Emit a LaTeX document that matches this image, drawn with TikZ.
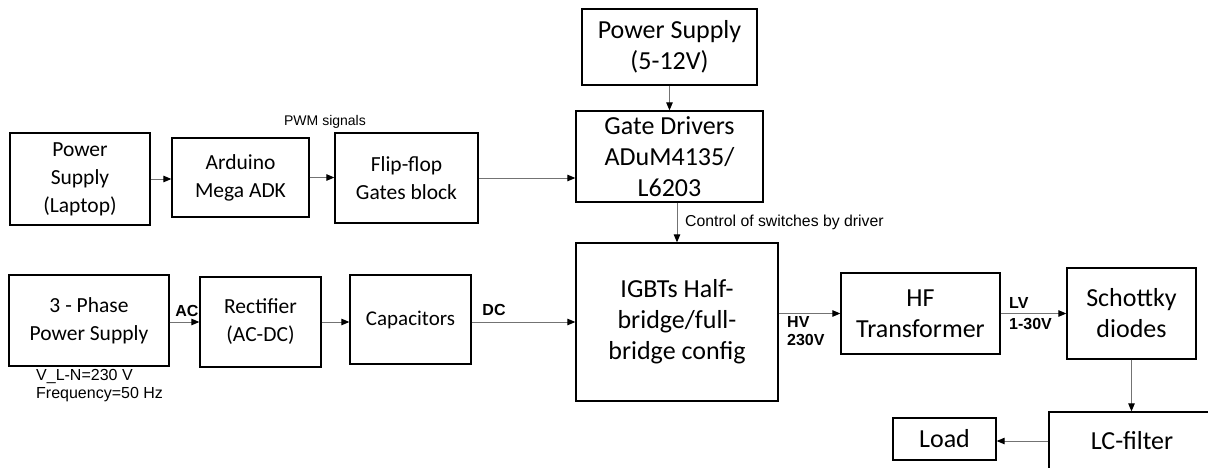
\documentclass[tikz,border=0pt]{standalone}
\usepackage{fontspec}
\setmainfont{Carlito}
\newfontfamily\labfont{Liberation Sans}
\usetikzlibrary{arrows.meta}
\tikzset{
  blk/.style={draw=black, line width=1.3pt, inner sep=0pt, align=center, rectangle},
  lft/.style={blk, font=\fontsize{21.5}{28}\selectfont},
  rgt/.style={blk, font=\fontsize{26}{31}\selectfont},
  conn/.style={draw=black!55, line width=1pt, -{Triangle[length=8pt,width=6.5pt,color=black]}},
  smlab/.style={font=\labfont\fontsize{14}{17}\selectfont, inner sep=0pt},
  bdlab/.style={font=\labfont\bfseries\fontsize{16}{19}\selectfont, inner sep=0pt, align=left},
}
\begin{document}
\begin{tikzpicture}[x=1pt,y=-1pt]
\useasboundingbox (0,0) rectangle (1208,467);
\clip (0,0) rectangle (1208,467);
% top row
\node[lft, minimum width=140pt, minimum height=92pt] (psl) at (80,179) {Power\\Supply\\(Laptop)};
\node[lft, minimum width=137pt, minimum height=79pt] (ard) at (240.5,177.5) {Arduino\\Mega ADK};
\node[lft, minimum width=143pt, minimum height=90pt] (ff) at (406.5,178) {Flip-flop\\Gates block};
\node[rgt, minimum width=187pt, minimum height=91pt] (gd) at (669.5,156.5) {Gate Drivers\\ADuM4135/\\L6203};
\node[rgt, minimum width=175pt, minimum height=76pt] (ps12) at (669.5,47) {Power Supply\\(5-12V)};
% bottom row
\node[lft, minimum width=160pt, minimum height=91pt] (ph3) at (89,320.5) {3 - Phase\\Power Supply};
\node[lft, minimum width=121pt, minimum height=90pt] (rect) at (260.5,322) {Rectifier\\(AC-DC)};
\node[lft, font=\fontsize{21}{28}\selectfont, minimum width=121pt, minimum height=89pt] (cap) at (410.5,319.5) {Capacitors};
\node[rgt, minimum width=202pt, minimum height=158pt] (igbt) at (677,322) {IGBTs Half-\\bridge/full-\\bridge config};
\node[rgt, minimum width=159pt, minimum height=81pt] (hf) at (920.5,313.5) {HF\\Transformer};
\node[rgt, minimum width=129pt, minimum height=91pt] (sch) at (1131.5,313.5) {Schottky\\diodes};
\node[rgt, minimum width=166pt, minimum height=58pt] (lc) at (1132,441) {LC-filter};
\node[rgt, minimum width=103pt, minimum height=42pt] (load) at (944.5,439) {Load};
% connectors
\draw[conn] (psl.east) -- (psl.east -| ard.west);
\draw[conn] (ard.east) -- (ff.west |- ard.east);
\draw[conn] (ff.east) -- (gd.west |- ff.east);
\draw[conn] (ps12.south) -- (gd.north);
\draw[conn] (gd.south -| igbt.north) -- (igbt.north);
\draw[conn] (ph3.east |- rect.west) -- (rect.west);
\draw[conn] (rect.east) -- (cap.west |- rect.east);
\draw[conn] (cap.east |- igbt.west) -- (igbt.west);
\draw[conn] (igbt.east |- hf.west) -- (hf.west);
\draw[conn] (hf.east) -- (sch.west |- hf.east);
\draw[conn] (sch.south) -- (sch.south |- lc.north);
\draw[conn] (lc.west) -- (load.east |- lc.west);
% labels
\node[smlab] (pwm) at (325,122) {PWM signals};
\node[smlab, anchor=west, font=\labfont\fontsize{15.8}{18}\selectfont] (ctrl) at (685,222) {Control of switches by driver};
\node[bdlab] (ac) at (187,311) {AC};
\node[bdlab] (dc) at (494,310) {DC};
\node[bdlab, anchor=west, font=\labfont\bfseries\fontsize{16}{18}\selectfont] (hv) at (787,331) {HV\\230V};
\node[bdlab, anchor=west, font=\labfont\bfseries\fontsize{16}{21}\selectfont] (lv) at (1009,313.5) {LV\\1-30V};
\node[smlab, anchor=west, align=left, font=\labfont\fontsize{16}{18}\selectfont] (vln) at (36,386) {V\_L-N=230 V\\Frequency=50 Hz};
\end{tikzpicture}
\end{document}
